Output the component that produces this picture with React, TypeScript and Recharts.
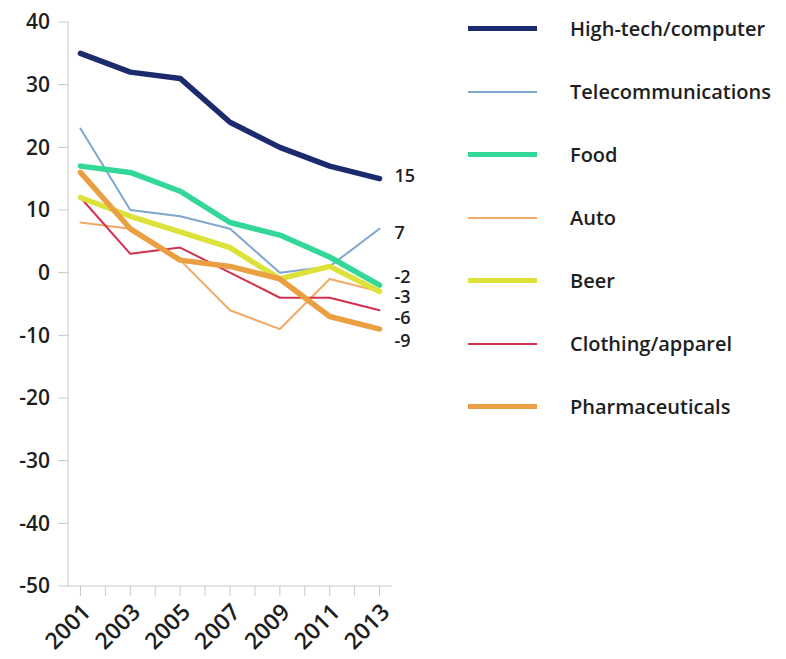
import React from 'react';
import { LineChart, Line, XAxis, YAxis, Legend, LabelList } from 'recharts';

const years = [2001, 2003, 2005, 2007, 2009, 2011, 2013];
const highTech = [35, 32, 31, 24, 20, 17, 15];
const telecom = [23, 10, 9, 7, 0, 1, 7];
const food = [17, 16, 13, 8, 6, 2.5, -2];
const auto = [8, 7, 2, -6, -9, -1, -3];
const beer = [12, 9, 6.5, 4, -1, 1, -3];
const clothing = [12, 3, 4, 0, -4, -4, -6];
const pharma = [16, 7, 2, 1, -1, -7, -9];

const xTicks = [2001, 2002, 2003, 2004, 2005, 2006, 2007, 2008, 2009, 2010, 2011, 2012, 2013];
const yTicks = [-50, -40, -30, -20, -10, 0, 10, 20, 30, 40];

const series = [
  { key: 'highTech', name: 'High-tech/computer', values: highTech, color: '#1c2a6e', width: 5.5, label: true, dy: -3 },
  { key: 'telecom', name: 'Telecommunications', values: telecom, color: '#7fa6cc', width: 2, label: true, dy: 4 },
  { key: 'food', name: 'Food', values: food, color: '#33d898', width: 5.5, label: true, dy: -9 },
  { key: 'auto', name: 'Auto', values: auto, color: '#f0aa66', width: 2, label: false, dy: 0 },
  { key: 'beer', name: 'Beer', values: beer, color: '#dde23a', width: 5.5, label: true, dy: 5 },
  { key: 'clothing', name: 'Clothing/apparel', values: clothing, color: '#d3304e', width: 2, label: true, dy: 7 },
  { key: 'pharma', name: 'Pharmaceuticals', values: pharma, color: '#eaa042', width: 5.5, label: true, dy: 12 },
];

const drawOrder = ['telecom', 'auto', 'clothing', 'beer', 'food', 'pharma', 'highTech'];

const data = years.map((year, i) => {
  const row: Record<string, number> = { year };
  series.forEach((s) => {
    row[s.key] = s.values[i];
  });
  return row;
});

const FONT = '"Open Sans", sans-serif';
const TEXT = '#1e1e1e';

const makeEndLabel = (dy: number) => (props: any) => {
  const { x, y, value, index } = props;
  if (index !== years.length - 1) return null;
  return (
    <text x={x + 15} y={y + dy} dy="0.35em" fontSize={18} fontWeight={600} fontFamily={FONT} fill={TEXT}>
      {value}
    </text>
  );
};

const LegendContent = () => (
  <div style={{ fontFamily: FONT }}>
    {series.map((s) => (
      <div key={s.key} style={{ display: 'flex', alignItems: 'center', height: 63 }}>
        <div style={{ width: 69, height: s.width, background: s.color, marginLeft: 8 }} />
        <div style={{ marginLeft: 33, fontSize: 20, fontWeight: 600, color: TEXT, whiteSpace: 'nowrap' }}>{s.name}</div>
      </div>
    ))}
  </div>
);

export default function App() {
  return (
    <div style={{ position: 'absolute', left: 0, top: 0, background: '#fff' }}>
      <LineChart width={786} height={659} data={data} margin={{ top: 22, right: 394, bottom: 13, left: 0 }}>
        <XAxis
          dataKey="year"
          type="number"
          domain={[2000.5, 2013.5]}
          ticks={xTicks}
          interval={0}
          tickFormatter={(v: number) => (v % 2 === 1 ? String(v) : '')}
          angle={-45}
          textAnchor="end"
          height={60}
          tickSize={10}
          tickMargin={6}
          stroke="#c8c8c8"
          tick={{ fill: TEXT, fontSize: 23, fontWeight: 600, fontFamily: FONT }}
        />
        <YAxis
          type="number"
          domain={[-50, 40]}
          ticks={yTicks}
          interval={0}
          width={68}
          tickSize={10}
          tickMargin={8}
          stroke="#c8c8c8"
          tick={{ fill: TEXT, fontSize: 21, fontWeight: 600, fontFamily: FONT }}
        />
        <Legend
          layout="vertical"
          align="center"
          verticalAlign="middle"
          content={<LegendContent />}
          wrapperStyle={{ left: 460, top: -3, width: 326 }}
        />
        {drawOrder.map((k) => {
          const s = series.find((x) => x.key === k)!;
          return (
            <Line
              key={s.key}
              dataKey={s.key}
              name={s.name}
              type="linear"
              stroke={s.color}
              strokeWidth={s.width}
              strokeLinejoin="round"
              strokeLinecap="round"
              dot={false}
              activeDot={false}
              isAnimationActive={false}
            >
              {s.label ? <LabelList dataKey={s.key} content={makeEndLabel(s.dy)} /> : null}
            </Line>
          );
        })}
      </LineChart>
    </div>
  );
}
